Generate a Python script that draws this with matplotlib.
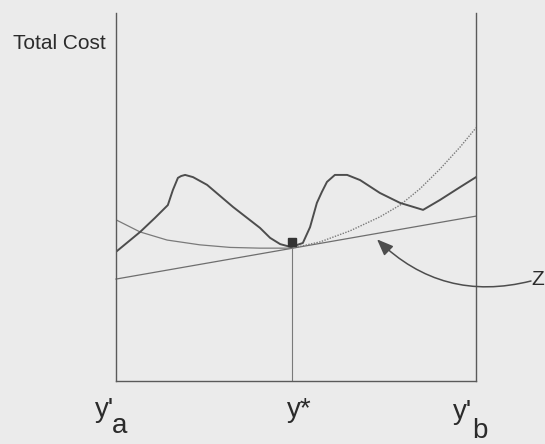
import matplotlib
matplotlib.use("Agg")
import matplotlib.pyplot as plt

# readings (x: 0 = y'a, 10 = y'b ; cost in arbitrary units)
wavy_x = [0.0, 0.67, 1.08, 1.44, 1.58, 1.72, 1.81, 1.92, 2.14, 2.53, 3.25,
          4.00, 4.28, 4.56, 4.86, 5.19, 5.39, 5.58, 5.72, 5.86, 6.08, 6.42,
          6.78, 7.33, 7.89, 8.53, 9.00, 9.56, 10.0]
wavy_y = [3.51, 4.05, 4.43, 4.78, 5.19, 5.52, 5.57, 5.60, 5.54, 5.33, 4.73,
          4.16, 3.89, 3.72, 3.64, 3.75, 4.18, 4.84, 5.14, 5.41, 5.60, 5.60,
          5.46, 5.11, 4.84, 4.65, 4.92, 5.27, 5.54]

convex_left_x = [0.0, 0.67, 1.42, 2.33, 3.17, 4.00, 4.89]
convex_left_y = [4.38, 4.05, 3.83, 3.70, 3.63, 3.61, 3.61]

convex_right_x = [4.89, 5.67, 6.50, 7.33, 7.89, 8.44, 9.00, 9.56, 10.0]
convex_right_y = [3.61, 3.78, 4.08, 4.46, 4.78, 5.22, 5.76, 6.36, 6.88]

tangent_x = [0.0, 10.0]
tangent_y = [2.77, 4.48]

y_star = 4.89
y_star_cost = 3.78
arrow_tip = (7.25, 3.85)

W, H = 545, 444
fig = plt.figure(figsize=(W / 100, H / 100), dpi=100)
fig.patch.set_facecolor("#ebebeb")
ax = fig.add_axes([116 / W, 1 - 381 / H, 360 / W, 368 / H])
ax.set_facecolor("#ebebeb")
ax.set_xlim(0, 10)
ax.set_ylim(0, 10)
ax.set_xticks([])
ax.set_yticks([])
ax.spines["top"].set_visible(False)
for s in ["left", "right", "bottom"]:
    ax.spines[s].set_color("#5a5a5a")
    ax.spines[s].set_linewidth(1.0)

ax.plot(tangent_x, tangent_y, color="#6e6e6e", lw=0.9, clip_on=False)
ax.plot(convex_left_x, convex_left_y, color="#7a7a7a", lw=0.9)
ax.plot(convex_right_x, convex_right_y, color="#7a7a7a", lw=1.0, ls=(0, (1, 1)))
ax.plot(wavy_x, wavy_y, color="#4d4d4d", lw=1.4, solid_joinstyle="round")
ax.plot([y_star, y_star], [0, 3.6], color="#7a7a7a", lw=0.8)
ax.plot([y_star], [y_star_cost], marker="s", ms=6, color="#333333", ls="none")

ax.annotate("", xy=arrow_tip, xytext=(531 / W, 1 - 281 / H),
            textcoords="figure fraction",
            arrowprops=dict(arrowstyle="-|>,head_length=1.0,head_width=0.4",
                            color="#4d4d4d", lw=1.1,
                            connectionstyle="arc3,rad=-0.28",
                            shrinkA=0, shrinkB=0))

font = "Liberation Sans"
tc = "#2b2b2b"
fig.text(13 / W, 1 - 49 / H, "Total Cost", fontsize=15, family=font,
         color=tc, va="baseline")
fig.text(531 / W, 1 - 285 / H, "Z", fontsize=15, family=font, color=tc,
         va="baseline")

fig.text(95 / W, 1 - 417 / H, "y'", fontsize=20, family=font, color=tc,
         va="baseline")
fig.text(112 / W, 1 - 433 / H, "a", fontsize=20, family=font, color=tc,
         va="baseline")
fig.text(287 / W, 1 - 417 / H, "y*", fontsize=20, family=font, color=tc,
         va="baseline")
fig.text(453 / W, 1 - 419 / H, "y'", fontsize=20, family=font, color=tc,
         va="baseline")
fig.text(472 / W, 1 - 438 / H, "b", fontsize=20, family=font, color=tc,
         va="baseline")

fig.savefig("out.png", dpi=100, facecolor=fig.get_facecolor())
